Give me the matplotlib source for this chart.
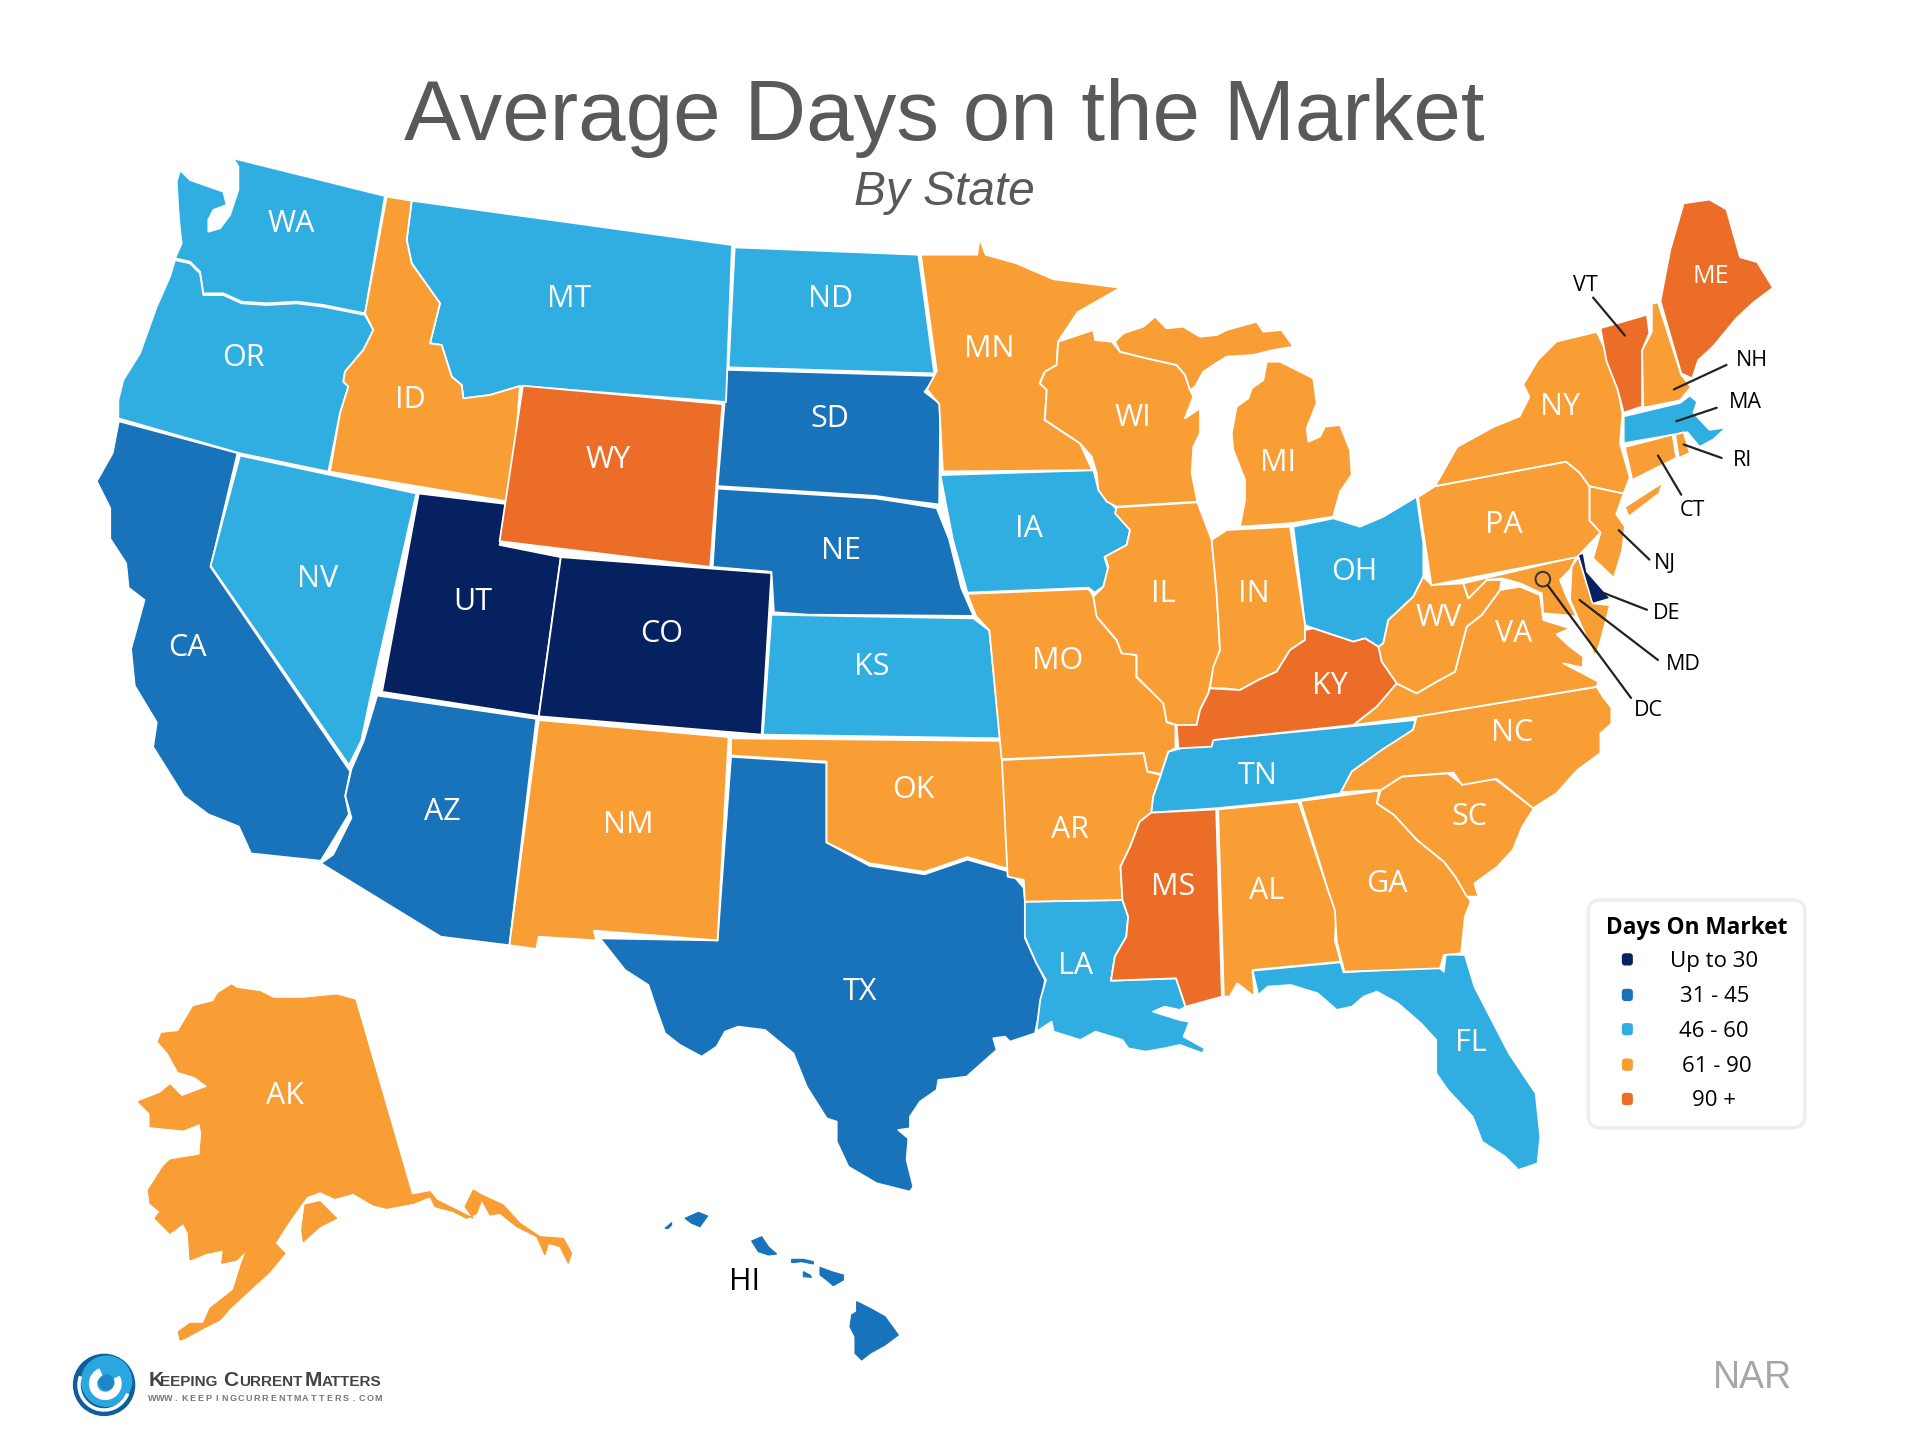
import matplotlib
matplotlib.use('Agg')
import matplotlib.pyplot as plt
from matplotlib.patches import Polygon, Circle, FancyBboxPatch, Arc

SCALE = 1920 / 1568


def crop(points, ox, oy, sx=3, sy=3):
    return [((x / sx + ox) / SCALE, (y / sy + oy) / SCALE) for x, y in points]


# outlines
WA = crop([(430,25),(885,138),(825,490),(700,465),(620,455),(530,460),(455,455),(400,430),(340,430),(330,365),(300,335),(255,325),(275,280),(270,240),(265,180),(260,95),(270,60),(300,90),(400,125),(410,165),(370,180),(355,210),(355,245),(390,235),(420,195),(445,120),(445,50)], 90, 150)
OR = crop([(255,330),(300,340),(330,370),(340,435),(400,435),(455,460),(530,465),(620,460),(700,470),(825,495),(850,540),(820,600),(765,665),(760,695),(775,710),(750,790),(715,965),(450,910),(85,805),(85,750),(100,690),(150,610),(200,470),(240,380)], 90, 150)
ID = crop([(890,140),(965,152),(950,270),(965,340),(1050,460),(1020,580),(1055,585),(1085,680),(1115,705),(1120,745),(1200,735),(1290,708),(1263,1056),(720,965),(750,790),(775,710),(760,695),(765,665),(820,600),(850,540),(825,490)], 90, 150)
MT = crop([(965,152),(1926,285),(1908,756),(1290,708),(1200,735),(1120,745),(1115,705),(1085,680),(1055,585),(1020,580),(1050,460),(965,340),(950,270)], 90, 150)
CA = [(97,344),(194,370),(172,463),(286,630),(282,650),(285,665),(270,690),(262,703),(205,697),(195,675),(170,665),(150,650),(125,610),(128,590),(110,560),(107,530),(118,490),(105,480),(103,460),(90,440),(90,415),(79,393),(92,370)]
NV = [(196,372),(340,403),(303,567),(295,605),(285,625),(172,462)]
WY = [(427,315),(590,330),(580,463),(408,442)]
UT = [(342,403),(417,412),(408,445),(458,455),(440,585),(312,565)]
CO = [(458,455),(630,468),(622,600),(440,585)]
AZ = [(308,568),(438,587),(416,772),(360,765),(262,705),(272,698),(287,668),(282,650),(287,628),(297,605)]
NM = [(440,588),(595,602),(586,768),(485,760),(487,768),(440,765),(438,775),(416,772)]
ND = [(600,202),(750,208),(763,305),(595,300)]
SD = [(594,302),(765,307),(755,320),(768,330),(767,412),(735,408),(715,405),(586,397)]
NE = [(586,399),(715,407),(735,410),(765,415),(775,440),(785,480),(795,503),(660,502),(632,500),(630,467),(582,463)]
KS = [(630,502),(795,505),(808,515),(817,603),(623,600)]
OK = [(597,603),(817,605),(822,620),(825,710),(790,700),(755,712),(710,705),(675,688),(675,622),(597,617)]
TX = crop([(0,115),(75,210),(145,255),(170,330),(195,400),(240,435),(305,470),(350,440),(375,395),(415,380),(495,390),(580,460),(620,560),(680,655),(710,665),(710,725),(745,800),(830,850),(930,875),(940,860),(920,780),(925,715),(895,690),(930,685),(930,650),(960,605),(1010,570),(1015,540),(1060,535),(1100,530),(1190,450),(1180,415),(1215,410),(1230,425),(1305,400),(1320,330),(1335,240),(1300,170),(1275,115),(1275,0)], 600, 900) + [(836,725),(825,712),(790,702),(755,714),(710,707),(675,688),(675,623),(597,618),(586,768)]
MN = [(752,208),(798,208),(800,195),(805,208),(830,215),(860,228),(915,235),(880,255),(864,279),(863,298),(853,304),(849,313),(855,318),(853,343),(882,362),(892,384),(770,385),(767,330),(757,318),(765,303)]
IA = [(768,388),(893,384),(897,400),(911,415),(923,433),(920,445),(902,455),(905,465),(901,479),(894,484),(889,480),(790,484),(778,440)]
MO = [(790,485),(889,481),(893,487),(896,504),(912,523),(916,533),(928,535),(928,553),(950,574),(953,590),(960,592),(960,611),(954,614),(948,632),(937,630),(934,615),(818,620),(808,515),(797,503)]

WI = crop([(175,125),(280,90),(285,120),(335,125),(360,155),(440,175),(530,195),(555,225),(570,270),(580,290),(555,355),(600,325),(600,400),(580,440),(575,520),(592,605),(350,620),(320,605),(295,570),(290,520),(275,470),(240,430),(135,360),(140,270),(120,250),(135,215),(170,195)], 1000, 300)
MI_UP = crop([(345,125),(370,100),(430,80),(465,50),(500,85),(550,80),(600,110),(650,105),(680,90),(770,65),(790,95),(845,90),(880,140),(820,150),(760,165),(680,170),(640,195),(610,215),(585,260),(570,270),(555,225),(530,195),(440,175),(360,155)], 1000, 300)
MI = crop([(800,185),(840,185),(880,205),(940,235),(950,310),(920,385),(925,425),(960,410),(975,380),(1020,375),(1050,450),(1055,525),(1020,575),(1000,650),(870,670),(720,680),(735,600),(735,540),(700,450),(695,400),(710,320),(745,295),(755,265),(790,240)], 1000, 300)
IL = crop([(350,622),(592,607),(620,680),(635,720),(650,880),(660,1050),(635,1130),(625,1180),(600,1230),(590,1275),(530,1275),(500,1265),(490,1210),(410,1130),(410,1065),(365,1060),(350,1020),(290,950),(280,890),(310,860),(325,800),(315,770),(380,735),(390,690),(345,640)], 1000, 300)
IN = crop([(635,720),(680,690),(870,680),(915,975),(915,1020),(870,1050),(830,1115),(775,1140),(720,1170),(670,1165),(630,1165),(640,1100),(660,1050),(650,880)], 1000, 300)
OH = crop([(880,680),(1000,655),(1080,680),(1150,650),(1250,590),(1270,730),(1270,830),(1240,890),(1165,960),(1150,1030),(1135,1040),(1095,1015),(1060,1025),(1000,1005),(940,985),(915,975)], 1000, 300)
KY = crop([(530,1275),(590,1275),(600,1230),(625,1180),(630,1165),(720,1170),(775,1140),(830,1115),(870,1050),(915,1020),(915,990),(940,985),(1000,1005),(1060,1025),(1095,1015),(1135,1040),(1145,1085),(1190,1150),(1130,1220),(1060,1275),(640,1320),(635,1340),(535,1345)], 1000, 300)

SOUTH_X = 1568 / 600
TN = crop([(440,95),(555,60),(1085,0),(1080,30),(1000,90),(920,155),(890,220),(780,240),(565,265),(395,278),(400,230),(420,165)], 1000, 720, SOUTH_X)
AR = crop([(5,120),(375,100),(385,155),(420,165),(400,230),(395,278),(365,305),(340,380),(315,440),(320,540),(65,545),(62,480),(20,470)], 1000, 720, SOUTH_X)
MS = crop([(395,278),(565,268),(580,830),(485,860),(460,775),(290,782),(300,710),(330,650),(335,590),(320,540),(315,440),(340,380),(365,305)], 1000, 720, SOUTH_X)
AL = crop([(570,268),(780,245),(860,520),(880,570),(875,660),(890,725),(660,750),(665,830),(620,790),(600,830),(585,830)], 1000, 720, SOUTH_X)
GA = crop([(785,243),(990,212),(985,250),(1030,285),(1090,360),(1160,425),(1210,500),(1230,545),(1215,590),(1205,700),(1160,705),(1150,745),(900,755),(880,665),(875,570),(860,520)], 1000, 720, SOUTH_X)
FL = crop([(660,752),(890,727),(898,757),(1145,740),(1160,755),(1165,703),(1215,705),(1240,800),(1330,1000),(1400,1120),(1412,1250),(1405,1330),(1355,1350),(1320,1310),(1260,1265),(1235,1190),(1170,1110),(1140,1060),(1140,960),(1100,910),(1040,850),(985,815),(950,830),(920,860),(880,870),(830,820),(760,795),(700,800),(675,825)], 1000, 720, SOUTH_X)
SC = crop([(995,210),(1050,170),(1170,160),(1205,190),(1295,178),(1395,265),(1365,320),(1340,390),(1300,440),(1240,490),(1250,530),(1220,530),(1190,470),(1160,425),(1090,360),(1030,285),(985,250)], 1000, 720, SOUTH_X)
LA = crop([(65,545),(320,540),(335,590),(330,650),(300,710),(290,782),(460,775),(485,860),(470,870),(430,860),(400,875),(470,900),(495,905),(480,950),(535,985),(530,1000),(470,975),(430,985),(380,995),(335,985),(320,960),(250,935),(210,960),(140,935),(135,905),(95,935),(105,840),(120,780),(95,730),(65,650)], 1000, 720, SOUTH_X)
NC = [(1095,647),(1104,630),(1129,612),(1154,596),(1157,585),(1304,561),(1309,569),(1316,578),(1316,591),(1307,599),(1307,615),(1288,629),(1271,648),(1252,660),(1222,636),(1194,641),(1187,631),(1145,634),(1128,645)]

VA = crop([(-140,675),(50,650),(590,560),(595,545),(548,520),(490,490),(548,503),(550,470),(510,440),(470,403),(510,385),(430,360),(420,285),(360,260),(300,270),(245,345),(200,380),(165,515),(110,545),(50,580),(-10,550),(-70,620)], 1400, 500)
WV = crop([(-65,440),(-50,430),(-35,360),(40,290),(70,230),(95,255),(190,250),(205,295),(260,240),(305,240),(300,270),(245,345),(200,380),(165,515),(110,545),(50,580),(-10,550),(-55,485)], 1400, 500)
MD_W = crop([(190,250),(530,170),(510,210),(480,240),(500,290),(530,350),(490,345),(430,340),(425,280),(360,250),(305,235),(260,240),(205,295)], 1400, 500)
MD_E = crop([(515,200),(535,170),(578,310),(630,315),(600,430),(585,470),(510,300)], 1400, 500)
DE = crop([(535,165),(550,160),(560,215),(630,295),(578,310)], 1400, 500)
NJ = [(1298,397),(1326,403),(1320,420),(1327,430),(1325,449),(1318,472),(1301,456),(1307,435),(1298,425)]
PA = [(1158,406),(1172,397),(1279,377),(1290,386),(1298,397),(1298,425),(1307,435),(1288,455),(1169,478)]
NY = [(1304,271),(1271,279),(1256,294),(1244,314),(1249,324),(1241,340),(1219,349),(1190,365),(1172,397),(1279,377),(1290,386),(1298,397),(1326,403),(1331,390),(1323,362),(1325,338),(1318,300)]
NY_LI = [(1327,414),(1358,394),(1355,403),(1330,422)]
VT = [(1307,268),(1345,257),(1347,272),(1341,286),(1341,332),(1326,337),(1321,318),(1312,295)]
NH = [(1349,248),(1354,247),(1373,306),(1381,316),(1372,327),(1342,333),(1341,286),(1349,271)]
ME = [(1356,246),(1364,204),(1375,166),(1396,163),(1410,171),(1421,210),(1435,214),(1448,235),(1432,247),(1418,260),(1399,283),(1387,294),(1382,309),(1373,305)]
MA = [(1326,340),(1372,329),(1380,323),(1386,328),(1383,337),(1396,351),(1410,349),(1399,359),(1388,365),(1378,353),(1326,362)]
CT = [(1327,365),(1366,355),(1369,374),(1333,392)]
RI = [(1368,355),(1375,353),(1380,370),(1371,374)]

AK = crop([(335,45),(350,55),(420,65),(460,85),(550,85),(650,75),(705,90),(875,675),(930,665),(950,690),(1010,720),(1060,745),(1035,710),(1060,660),(1085,675),(1150,705),(1200,760),(1260,800),(1330,805),(1355,850),(1345,880),(1320,830),(1285,820),(1275,855),(1250,800),(1190,770),(1140,730),(1110,735),(1085,690),(1070,730),(1040,745),(1000,725),(945,710),(930,680),(880,700),(800,715),(760,705),(700,670),(645,685),(600,665),(560,680),(510,750),(465,820),(495,850),(450,905),(395,955),(330,1015),(300,1050),(250,1075),(195,1105),(180,1110),(175,1085),(210,1060),(250,1060),(270,1015),(340,960),(365,880),(380,840),(350,870),(305,880),(310,840),(260,850),(210,870),(205,790),(190,760),(150,790),(105,745),(120,725),(90,700),(85,660),(130,590),(150,570),(240,555),(245,490),(240,460),(190,480),(90,470),(90,430),(55,395),(120,370),(150,345),(185,380),(265,350),(225,320),(175,305),(145,250),(115,215),(125,190),(175,185),(220,110),(280,95),(295,70)], 120, 970)
AK_KODIAK = crop([(555,705),(600,695),(650,745),(600,770),(550,815),(545,780)], 120, 970)
HI_BIG = crop([(650,365),(690,385),(735,410),(775,465),(735,495),(690,520),(665,540),(645,520),(645,470),(630,440),(635,405),(650,395)], 640, 1180)
HI_MAUI = crop([(540,262),(575,275),(610,285),(610,300),(580,317),(560,300),(540,285)], 640, 1180)
HI_KAHO = crop([(490,275),(510,285),(515,292),(490,290)], 640, 1180)
HI_MOLO = crop([(455,238),(490,238),(520,245),(520,252),(485,245),(455,248)], 640, 1180)
HI_OAHU = crop([(335,183),(365,170),(385,200),(410,222),(385,225),(355,215)], 640, 1180)
HI_KAUAI = crop([(135,115),(175,97),(203,108),(180,140),(155,130)], 640, 1180)
HI_NIIHAU = crop([(75,145),(95,128),(95,135),(85,145)], 640, 1180)

bin_labels = ['Up to 30', '31 - 45', '46 - 60', '61 - 90', '90 +']
bin_colors = ['#06215F', '#1873BA', '#30AEE2', '#F99D35', '#EB6D28']

bin_shapes = [
    [UT, CO],
    [CA, AZ, SD, NE, TX],
    [WA, OR, NV, MT, ND, KS, IA, OH, TN, LA, FL, MA],
    [ID, NM, OK, MN, MO, AR, WI, MI_UP, MI, IL, IN, AL, GA, SC, NC, VA, WV, MD_W, MD_E, NJ, PA, NY, NY_LI, NH, CT, RI],
    [WY, KY, MS, VT, ME],
]
hi_shapes = [HI_BIG, HI_MAUI, HI_KAHO, HI_MOLO, HI_OAHU, HI_KAUAI, HI_NIIHAU]
ak_shapes = [AK, AK_KODIAK]

white_names = ['WA','OR','CA','NV','ID','MT','WY','UT','CO','AZ','NM','ND','SD','NE','KS','OK','TX','MN','IA','MO','AR','LA','WI','MI','IL','IN','OH','KY','TN','MS','AL','GA','FL','SC','NC','VA','WV','PA','NY','ME','AK']
white_x = [238,199,153,259,335,465,497,386,540,361,513,678,678,687,712,746,702,808,840,864,874,878,925,1044,950,1024,1106,1086,1027,958,1034,1133,1201,1200,1235,1236,1175,1228,1274,1397,233]
white_y = [181,290,527,471,325,242,374,490,516,661,672,242,340,448,543,643,808,283,430,538,676,787,339,376,483,483,465,558,632,722,726,720,850,665,597,516,503,427,330,224,893]
white_sizes = [22 if n != 'ME' else 18 for n in white_names]

callout_names = ['VT','NH','MA','RI','CT','NJ','DE','MD','DC']
callout_x = [1295,1431,1425,1423,1382,1360,1361,1375,1346]
callout_y = [232,293,328,375,416,459,500,542,579]
line_x0 = [1301,1410,1402,1406,1373,1347,1345,1354,1332]
line_y0 = [243,298,333,374,404,457,498,539,570]
line_x1 = [1327,1367,1369,1375,1354,1322,1309,1290,1264]
line_y1 = [274,318,344,363,372,433,484,490,478]

LABEL_FONT = ['Open Sans', 'DejaVu Sans']

fig = plt.figure(figsize=(19.2, 14.4), dpi=100)
ax = fig.add_axes([0, 0, 1, 1])
ax.set_xlim(0, 1568)
ax.set_ylim(1176, 0)
ax.axis('off')

for color, shapes in zip(bin_colors, bin_shapes):
    for shape in shapes:
        ax.add_patch(Polygon(shape, closed=True, facecolor=color, edgecolor='white', linewidth=1.3, joinstyle='round'))
ax.add_patch(Polygon(DE, closed=True, facecolor=bin_colors[0], edgecolor='white', linewidth=0.8))

# no borders to draw here, and a white edge would eat the small islands
for shape in hi_shapes:
    ax.add_patch(Polygon(shape, closed=True, facecolor=bin_colors[1], edgecolor=bin_colors[1], linewidth=0.8))
for shape in ak_shapes:
    ax.add_patch(Polygon(shape, closed=True, facecolor=bin_colors[3], edgecolor=bin_colors[3], linewidth=0.8))

for name, x, y, size in zip(white_names, white_x, white_y, white_sizes):
    ax.text(x, y + 2, name, color='white', fontsize=size, family=LABEL_FONT, ha='center', va='center')

for name, x, y in zip(callout_names, callout_x, callout_y):
    ax.text(x, y + 1, name, color='black', fontsize=15.5, family=LABEL_FONT, ha='center', va='center')
for x0, y0, x1, y1 in zip(line_x0, line_y0, line_x1, line_y1):
    ax.plot([x0, x1], [y0, y1], color='#222222', lw=1.6, solid_capstyle='round')
ax.add_patch(Circle((1260, 473), 6, facecolor='none', edgecolor='#333333', lw=1.4))
ax.text(608, 1047, 'HI', color='black', fontsize=22, family=LABEL_FONT, ha='center', va='center')

ax.text(771, 96, 'Average Days on the Market', color='#595959', fontsize=61.5, family='Liberation Sans', ha='center', va='center')
ax.text(771, 157, 'By State', color='#595959', fontsize=34.5, style='italic', family='Liberation Sans', ha='center', va='center')

# legend
ax.add_patch(FancyBboxPatch((1304, 742), 163, 172, boxstyle='round,pad=7,rounding_size=10', facecolor='white', edgecolor='#EEEEEE', lw=2.5))
ax.text(1386, 758, 'Days On Market', color='black', fontsize=16.3, fontweight='bold', family=LABEL_FONT, ha='center', va='center')
legend_y = [784, 813, 841, 870, 898]
legend_text_x = [1400, 1400, 1400, 1402, 1400]
for y, tx, label, color in zip(legend_y, legend_text_x, bin_labels, bin_colors):
    ax.add_patch(FancyBboxPatch((1326, y - 4), 6, 7, boxstyle='round,pad=1.5,rounding_size=2.5', facecolor=color, edgecolor='none'))
    ax.text(tx, y + 1, label, color='black', fontsize=16, family=LABEL_FONT, ha='center', va='center')

# logo
ax.add_patch(Circle((85, 1131), 25.5, facecolor='#0F5E9C', edgecolor='none'))
ax.add_patch(Circle((87, 1128), 21, facecolor='#2AA7DE', edgecolor='none'))
ax.add_patch(Arc((85, 1131), 41, 41, theta1=20, theta2=200, color='white', lw=2.5))
ax.add_patch(Arc((86, 1130), 20, 20, theta1=-30, theta2=250, color='white', lw=6))
ax.add_patch(Circle((87, 1129), 6.5, facecolor='#1C86C6', edgecolor='none'))

word_x = [121, 131, 182, 195, 249, 263]
word_text = ['K', 'EEPING', 'C', 'URRENT', 'M', 'ATTERS']
word_size = [15, 11, 15, 11, 15, 11]
for x, word, size in zip(word_x, word_text, word_size):
    ax.text(x, 1132, word, color='#444444', fontsize=size, fontweight='bold', family='Liberation Sans', va='baseline')
url_text = 'WWW.KEEPINGCURRENTMATTERS.COM'
for i, ch in enumerate(url_text):
    ax.text(124 + i * 6.6, 1142, ch, color='#777777', fontsize=6.5, fontweight='bold', family='Liberation Sans', ha='center', va='center')

ax.text(1431, 1125, 'NAR', color='#A6A6A6', fontsize=27, family='Liberation Sans', ha='center', va='center')

fig.savefig('out.png', dpi=100, facecolor='white')
